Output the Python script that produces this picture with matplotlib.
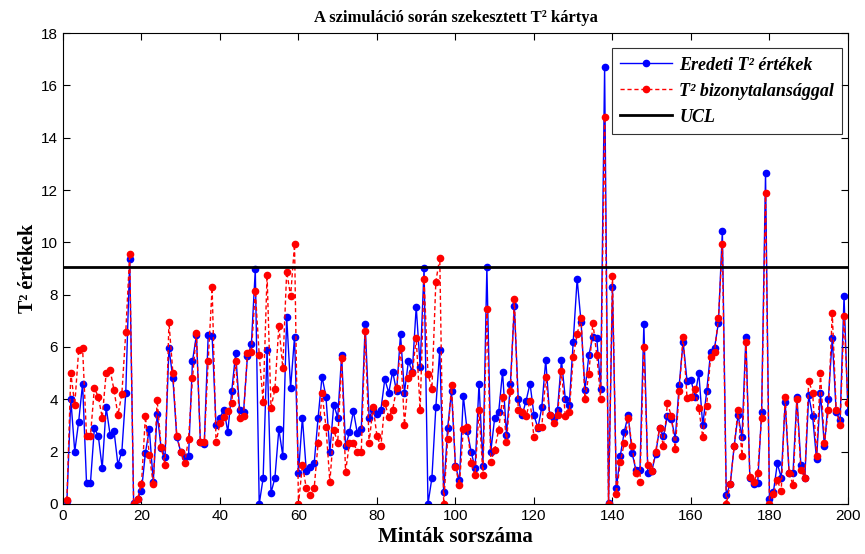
import matplotlib
matplotlib.use("Agg")
import matplotlib.pyplot as plt
import numpy as np

# sample index 1..200
samples = np.arange(1, 201)

eredeti = [
    0.1, 4.0, 2.0, 3.15, 4.6, 0.8, 0.8, 2.9, 2.6, 1.37,
    3.7, 2.65, 2.8, 1.5, 2.0, 4.25, 9.35, 0.05, 0.2, 0.5,
    1.95, 2.86, 0.85, 3.45, 2.15, 1.8, 5.96, 4.8, 2.55, 2.0,
    1.8, 1.85, 5.46, 6.46, 2.38, 2.3, 6.45, 6.42, 3.0, 3.3,
    3.6, 2.76, 4.32, 5.76, 3.6, 3.5, 5.65, 6.1, 8.97, 0.0,
    0.99, 5.9, 0.42, 1.0, 2.86, 1.85, 7.14, 4.43, 6.4, 1.18,
    3.3, 1.25, 1.4, 1.55, 3.3, 4.87, 4.1, 2.0, 3.8, 3.3,
    5.69, 2.2, 2.75, 3.55, 2.7, 2.85, 6.86, 3.3, 3.6, 3.45,
    3.6, 4.77, 4.25, 5.06, 4.3, 6.5, 4.25, 5.45, 5.05, 7.54,
    5.25, 9.0, 0.0, 1.0, 3.7, 5.9, 0.45, 2.9, 4.3, 1.45,
    0.9, 4.13, 2.77, 2.0, 1.37, 4.6, 1.45, 9.05, 2.0, 3.3,
    3.5, 5.05, 2.65, 4.6, 7.55, 4.0, 3.4, 3.95, 4.6, 3.4,
    2.9, 3.7, 5.5, 3.4, 3.3, 3.6, 5.5, 4.0, 3.8, 6.2,
    8.6, 6.95, 4.35, 5.7, 6.4, 6.35, 4.4, 16.7, 0.05, 8.3,
    0.6, 1.85, 2.75, 3.4, 1.95, 1.28, 1.28, 6.86, 1.2, 1.25,
    1.9, 2.9, 2.6, 3.35, 3.25, 2.5, 4.55, 6.2, 4.7, 4.75,
    4.1, 5.0, 3.0, 4.3, 5.8, 5.96, 6.93, 10.45, 0.35, 0.75,
    2.2, 3.4, 2.55, 6.4, 1.0, 0.75, 0.8, 3.5, 12.65, 0.2,
    0.45, 1.55, 1.0, 3.9, 1.2, 1.2, 4.1, 1.5, 1.0, 4.15,
    3.35, 1.7, 4.25, 2.2, 4.0, 6.35, 3.5, 3.2, 7.95, 3.5,
]

bizonytalan = [
    0.15, 5.0, 3.8, 5.88, 5.95, 2.6, 2.6, 4.43, 4.1, 3.3,
    5.0, 5.12, 4.36, 3.4, 4.2, 6.57, 9.55, 0.0, 0.2, 0.76,
    3.35, 1.87, 0.76, 3.97, 2.19, 1.5, 6.95, 5.02, 2.6, 2.0,
    1.55, 2.5, 4.8, 6.55, 2.35, 2.35, 5.46, 8.28, 2.35, 3.09,
    3.33, 3.55, 3.87, 5.46, 3.3, 3.37, 5.78, 5.8, 8.14, 5.7,
    3.91, 8.75, 3.68, 4.39, 6.8, 5.21, 8.88, 7.95, 9.93, 0.0,
    1.49, 0.6, 0.34, 0.6, 2.33, 4.24, 2.96, 0.85, 2.83, 2.33,
    5.57, 1.24, 2.33, 2.33, 2.0, 2.0, 6.6, 2.33, 3.72, 2.6,
    2.2, 3.85, 3.33, 3.6, 4.43, 5.96, 3.02, 4.81, 5.0, 6.34,
    3.6, 8.6, 4.97, 4.4, 8.5, 9.4, 0.0, 2.48, 4.56, 1.43,
    0.72, 2.86, 2.95, 1.55, 1.1, 3.6, 1.1, 7.44, 1.62, 2.08,
    2.83, 4.1, 2.35, 4.3, 7.84, 3.6, 3.5, 3.36, 3.95, 2.55,
    2.95, 2.95, 4.87, 3.4, 3.1, 3.4, 5.1, 3.35, 3.5, 5.63,
    6.5, 7.1, 4.0, 4.97, 6.93, 5.7, 4.0, 14.8, 0.0, 8.72,
    0.4, 1.6, 2.33, 3.3, 2.2, 1.2, 0.85, 6.01, 1.5, 1.25,
    2.0, 2.9, 2.2, 3.85, 3.36, 2.1, 4.3, 6.4, 4.05, 4.1,
    4.4, 3.65, 2.55, 3.75, 5.63, 5.8, 7.1, 9.95, 0.0, 0.75,
    2.2, 3.6, 1.85, 6.2, 1.05, 0.85, 1.2, 3.3, 11.9, 0.0,
    0.4, 0.9, 0.5, 4.1, 1.2, 0.72, 4.0, 1.28, 1.0, 4.7,
    4.25, 1.85, 5.0, 2.33, 3.6, 7.3, 3.6, 3.0, 7.18, 3.85,
]

UCL = 9.04

fig = plt.figure(figsize=(8.65, 5.54), dpi=100)
ax = fig.add_axes([0.0728, 0.0903, 0.9075, 0.8501])

ax.plot(samples, eredeti, "-", color="#0000ff", lw=1.0, marker="o", ms=4.5,
        mec="#0000ff", mfc="#0000ff", label="Eredeti T² értékek")
ax.plot(samples, bizonytalan, "--", color="#ff0000", lw=1.0, marker="o", ms=4.5,
        mec="#ff0000", mfc="#ff0000", dashes=(3, 2), label="T² bizonytalansággal")
ax.axhline(UCL, color="black", lw=2.0, label="UCL")

ax.set_xlim(0, 200)
ax.set_ylim(0, 18)
ax.set_xticks(np.arange(0, 201, 20))
ax.set_yticks(np.arange(0, 19, 2))
ax.tick_params(direction="in", top=True, right=True, labelsize=11, length=5,
               width=0.8)
for lbl in ax.get_xticklabels() + ax.get_yticklabels():
    lbl.set_family(["Liberation Sans", "DejaVu Sans"])
for sp in ax.spines.values():
    sp.set_linewidth(0.8)

serif = ["Liberation Serif", "DejaVu Serif"]
ax.set_title("A szimuláció során szekesztett T² kártya", family=serif,
             fontweight="bold", fontsize=12, pad=8)
ax.set_xlabel("Minták sorszáma", family=serif, fontweight="bold", fontsize=15,
              labelpad=3)
ax.set_ylabel("T² értékek", family=serif, fontweight="bold", fontsize=14.5,
              labelpad=2)

leg = ax.legend(loc="upper right", bbox_to_anchor=(0.9975, 0.975),
                prop={"family": serif, "weight": "bold", "style": "italic",
                      "size": 13},
                frameon=True, fancybox=False, edgecolor="black",
                borderpad=0.45, labelspacing=0.5, handlelength=2.9,
                handletextpad=0.4, borderaxespad=0.2)
leg.get_frame().set_linewidth(0.8)

fig.savefig("out.png", dpi=100)
